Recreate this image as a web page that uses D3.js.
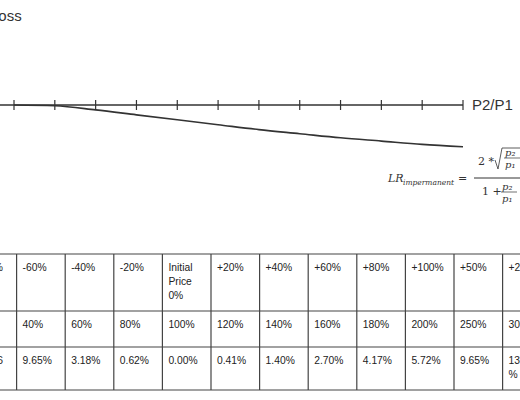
<!DOCTYPE html>
<html>
<head>
<meta charset="utf-8">
<script src="https://cdn.jsdelivr.net/npm/d3@7"></script>
<style>
  body { margin: 0; background: #fff; }
  svg { font-family: "Liberation Sans", Arial, sans-serif; }
</style>
</head>
<body>
<svg id="chart" width="520" height="400"></svg>
<script>
// curve: impermanent loss (arbitrary units, per tick)
const tickIndex = [0, 1, 2, 3, 4, 5, 6, 7, 8, 9, 10, 11];
const lossValues = [0, 0.1, 0.6, 1.2, 1.8, 2.4, 3.0, 3.5, 4.0, 4.4, 4.8, 5.1];

// table
const headerRow = [["-80%"], ["-60%"], ["-40%"], ["-20%"], ["Initial", "Price", "0%"], ["+20%"], ["+40%"], ["+60%"], ["+80%"], ["+100%"], ["+50%"], ["+200%"]];
const ratioRow = [["20%"], ["40%"], ["60%"], ["80%"], ["100%"], ["120%"], ["140%"], ["160%"], ["180%"], ["200%"], ["250%"], ["300%"]];
const lossRow = [["25.46"], ["9.65%"], ["3.18%"], ["0.62%"], ["0.00%"], ["0.41%"], ["1.40%"], ["2.70%"], ["4.17%"], ["5.72%"], ["9.65%"], ["13.40", "%"]];

const svg = d3.select("#chart");

// ---- chart
const x = d3.scaleLinear().domain([0, 11]).range([14, 463]);
const y = d3.scaleLinear().domain([0, 10]).range([105, 187]);

svg.append("text").attr("x", -10).attr("y", 21).attr("font-size", 15).attr("fill", "#333").text("Loss");

svg.append("line").attr("x1", 0).attr("x2", x(11)).attr("y1", 105).attr("y2", 105)
  .attr("stroke", "#333").attr("stroke-width", 1.3);
svg.selectAll(".tick").data(tickIndex).join("line")
  .attr("x1", d => x(d)).attr("x2", d => x(d)).attr("y1", 100).attr("y2", 110)
  .attr("stroke", "#333").attr("stroke-width", 1.2);

svg.append("path")
  .datum(tickIndex)
  .attr("d", d3.line().x(d => x(d)).y(d => y(lossValues[d])).curve(d3.curveMonotoneX))
  .attr("fill", "none").attr("stroke", "#333").attr("stroke-width", 1.6);

svg.append("text").attr("x", 472).attr("y", 110).attr("font-size", 15).attr("fill", "#333").text("P2/P1");

// formula
const f = svg.append("g").attr("font-family", "'DejaVu Serif', 'Liberation Serif', serif").attr("font-style", "italic").attr("fill", "#333");
f.append("text").attr("x", 388).attr("y", 182).attr("font-size", 11).text("LR");
f.append("text").attr("x", 403).attr("y", 185).attr("font-size", 7.5).text("impermanent");
f.append("text").attr("x", 458).attr("y", 182).attr("font-size", 11).attr("font-style", "normal").text("=");
f.append("line").attr("x1", 474).attr("x2", 520).attr("y1", 178).attr("y2", 178).attr("stroke", "#333");
f.append("text").attr("x", 478).attr("y", 165).attr("font-size", 11).attr("font-style", "normal").text("2 *");
f.append("path").attr("d", "M495,160 L498,169 L502,148 L520,148").attr("fill", "none").attr("stroke", "#333").attr("stroke-width", 0.8);
f.append("text").attr("x", 505).attr("y", 156).attr("font-size", 10).text("p₂");
f.append("line").attr("x1", 504).attr("x2", 520).attr("y1", 158).attr("y2", 158).attr("stroke", "#333").attr("stroke-width", 0.7);
f.append("text").attr("x", 505).attr("y", 168).attr("font-size", 10).text("p₁");
f.append("text").attr("x", 482).attr("y", 195).attr("font-size", 11).attr("font-style", "normal").text("1 +");
f.append("text").attr("x", 502).attr("y", 190).attr("font-size", 10).attr("fill", "#333").text("p₂");
f.append("line").attr("x1", 501).attr("x2", 517).attr("y1", 192).attr("y2", 192).attr("stroke", "#333").attr("stroke-width", 0.7);
f.append("text").attr("x", 502).attr("y", 202).attr("font-size", 10).text("p₁");

// ---- table
const colX = i => -32 + i * 48.6;
const rowY = [254, 311, 347, 390];
const rows = [headerRow, ratioRow, lossRow];
const firstColEnd = [3, -1, 3];
const t = svg.append("g");

rowY.forEach(yy => t.append("line").attr("x1", 0).attr("x2", 520).attr("y1", yy).attr("y2", yy).attr("stroke", "#444").attr("stroke-width", 1.2));
d3.range(1, 13).forEach(i => t.append("line").attr("x1", colX(i)).attr("x2", colX(i)).attr("y1", 254).attr("y2", 390).attr("stroke", "#444").attr("stroke-width", 1.2));

rows.forEach((r, ri) => {
  r.forEach((lines, ci) => {
    lines.forEach((s, li) => {
      t.append("text")
        .attr("x", ci === 0 ? firstColEnd[ri] : colX(ci) + 6)
        .attr("text-anchor", ci === 0 ? "end" : "start")
        .attr("y", rowY[ri] + 17 + li * 14)
        .attr("font-size", 10.3).attr("fill", "#222").text(s);
    });
  });
});
</script>
</body>
</html>
